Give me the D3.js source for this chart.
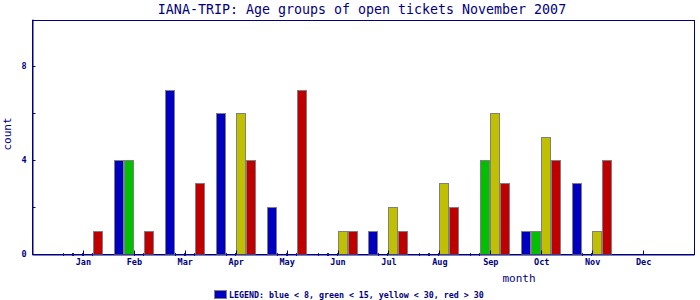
<!DOCTYPE html>
<html>
<head>
<meta charset="utf-8">
<script src="https://cdn.jsdelivr.net/npm/d3@7"></script>
<style>
  body { margin: 0; background: #fff; }
  text { font-family: "DejaVu Sans Mono", monospace; fill: #000080; }
</style>
</head>
<body>
<div id="chart"></div>
<script>
// age groups per month (null = no data)
const months = ['Jan', 'Feb', 'Mar', 'Apr', 'May', 'Jun', 'Jul', 'Aug', 'Sep', 'Oct', 'Nov', 'Dec'];
const blue   = [0, 4, 7, 6, 2, 0, 1, 0, 0, 1, 3, null];
const green  = [0, 4, 0, 0, 0, 0, 0, 0, 4, 1, 0, null];
const yellow = [0, 0, 0, 6, 0, 1, 2, 3, 6, 5, 1, null];
const red    = [1, 1, 3, 4, 7, 1, 1, 2, 3, 4, 4, null];
const yTicks = [0, 4, 8];

const series = [
    { name: 'blue', values: blue, color: '#0000c0' },
    { name: 'green', values: green, color: '#00c000' },
    { name: 'yellow', values: yellow, color: '#c0c000' },
    { name: 'red', values: red, color: '#c00000' }
];

const width = 700, height = 300;
const plotLeft = 32, plotRight = 694, plotTop = 20, plotBottom = 254;
const navy = '#000080';

const svg = d3.select('#chart').append('svg')
    .attr('width', width)
    .attr('height', height);

const x = d3.scaleLinear().domain([0, 13]).range([plotLeft, plotRight]);
const y = d3.scaleLinear().domain([0, 10]).range([plotBottom, plotTop - 1]);

// рамка графика
svg.append('rect')
    .attr('x', plotLeft + 0.5).attr('y', plotTop + 0.5)
    .attr('width', plotRight - plotLeft).attr('height', plotBottom - plotTop)
    .attr('fill', 'none').attr('stroke', navy);

// столбики
const cells = [];
series.forEach((s, si) => {
    s.values.forEach((v, mi) => {
        if (v === null) return;
        cells.push({ v, color: s.color, x0: Math.round(x(mi + 1)) - 20 + si * 10 });
    });
});

svg.append('g').selectAll('rect')
    .data(cells.filter(d => d.v > 0))
    .join('rect')
    .attr('x', d => d.x0 + 0.5)
    .attr('y', d => Math.round(y(d.v)) + 0.5)
    .attr('width', 9)
    .attr('height', d => plotBottom - Math.round(y(d.v)))
    .attr('fill', d => d.color)
    .attr('stroke', '#808080');

// нулевые столбики: только крошечные метки у оси
const stubs = svg.append('g').attr('stroke', '#202090');
cells.filter(d => d.v === 0).forEach(d => {
    [d.x0 + 0.5, d.x0 + 9.5].forEach(px => {
        stubs.append('line')
            .attr('x1', px).attr('x2', px)
            .attr('y1', plotBottom - 1).attr('y2', plotBottom + 2);
    });
});

// ось X
const xAxis = svg.append('g').attr('transform', `translate(0,${plotBottom + 0.5})`)
    .call(d3.axisBottom(x)
        .tickValues(d3.range(1, 13))
        .tickFormat(d => months[d - 1])
        .tickSizeInner(-4).tickSizeOuter(0).tickPadding(8));
xAxis.select('.domain').attr('stroke', navy);
xAxis.selectAll('.tick line').attr('stroke', navy)
    .attr('transform', d => `translate(${Math.round(x(d)) - x(d)},0)`);
xAxis.selectAll('.tick text')
    .attr('fill', navy).attr('font-size', '8.5px').attr('font-weight', 'bold')
    .attr('font-family', '"DejaVu Sans Mono", monospace')
    .attr('dy', '0.3em');

// ось Y
const yAxis = svg.append('g').attr('transform', `translate(${plotLeft + 0.5},0)`)
    .call(d3.axisLeft(y)
        .tickValues([0, 2, 4, 6, 8])
        .tickFormat(d => yTicks.includes(d) ? d : '')
        .tickSizeInner(-3).tickSizeOuter(0).tickPadding(6));
yAxis.select('.domain').attr('stroke', navy);
yAxis.selectAll('.tick line').attr('stroke', navy);
yAxis.selectAll('.tick text')
    .attr('fill', navy).attr('font-size', '8.5px').attr('font-weight', 'bold')
    .attr('font-family', '"DejaVu Sans Mono", monospace');

// заголовок и подписи осей
svg.append('text')
    .attr('x', 362).attr('y', 14)
    .attr('text-anchor', 'middle')
    .attr('font-size', '13.3px')
    .text('IANA-TRIP: Age groups of open tickets November 2007');

svg.append('text')
    .attr('x', 519).attr('y', 282)
    .attr('text-anchor', 'middle')
    .attr('font-size', '11px')
    .text('month');

svg.append('text')
    .attr('transform', 'translate(11,134) rotate(-90)')
    .attr('text-anchor', 'middle')
    .attr('font-size', '11px')
    .text('count');

// легенда
svg.append('rect')
    .attr('x', 214.5).attr('y', 290.5)
    .attr('width', 12).attr('height', 8)
    .attr('fill', '#0000c0').attr('stroke', '#808080');

svg.append('text')
    .attr('x', 229).attr('y', 298)
    .attr('font-size', '8.3px').attr('font-weight', 'bold')
    .text('LEGEND: blue < 8, green < 15, yellow < 30, red > 30');
</script>
</body>
</html>
